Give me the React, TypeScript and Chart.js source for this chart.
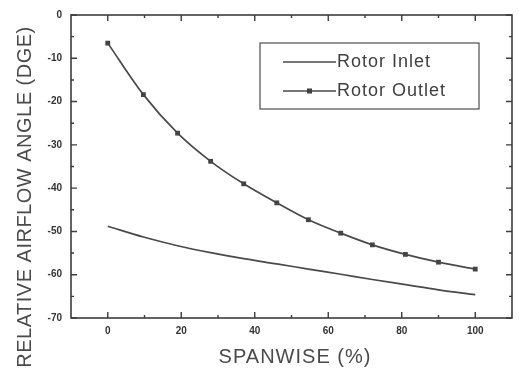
import React, { useEffect, useRef } from "react";
import { Chart, registerables } from "chart.js";

Chart.register(...registerables);

// Spanwise stations (%) and relative airflow angles (deg)
const spanwise = [0, 9.7, 19, 28, 37, 46, 54.6, 63.4, 72, 81, 90, 100];
const rotorInlet = [-48.8, -51.3, -53.3, -54.9, -56.3, -57.5, -58.7, -59.9, -61.1, -62.3, -63.5, -64.6];
const rotorOutlet = [-6.5, -18.4, -27.3, -33.8, -39.0, -43.4, -47.3, -50.4, -53.1, -55.3, -57.1, -58.7];

const xTickLabels = [0, 20, 40, 60, 80, 100];
const xMinorTicks = [10, 30, 50, 70, 90];
const yTickLabels = [0, -10, -20, -30, -40, -50, -60, -70];
const yMinorTicks = [-5, -15, -25, -35, -45, -55, -65];

const seriesNames = ["Rotor Inlet", "Rotor Outlet"];

const INK = "#3c3c3c";
const LINE = "#4a4a4a";

const framePlugin = {
  id: "frameAndDecor",
  afterDraw(chart: any) {
    const { ctx, chartArea: a, scales } = chart;
    const xs = scales.x;
    const ys = scales.y;
    ctx.save();
    // frame
    ctx.strokeStyle = INK;
    ctx.lineWidth = 1.6;
    ctx.strokeRect(a.left, a.top, a.right - a.left, a.bottom - a.top);

    // inward tick marks on all four sides
    ctx.lineWidth = 1.4;
    const tickX = (v: number, len: number) => {
      const px = xs.getPixelForValue(v);
      ctx.beginPath();
      ctx.moveTo(px, a.bottom);
      ctx.lineTo(px, a.bottom - len);
      ctx.moveTo(px, a.top);
      ctx.lineTo(px, a.top + len);
      ctx.stroke();
    };
    const tickY = (v: number, len: number) => {
      const py = ys.getPixelForValue(v);
      ctx.beginPath();
      ctx.moveTo(a.left, py);
      ctx.lineTo(a.left + len, py);
      ctx.moveTo(a.right, py);
      ctx.lineTo(a.right - len, py);
      ctx.stroke();
    };
    xTickLabels.forEach((v) => tickX(v, 6));
    xMinorTicks.forEach((v) => tickX(v, 3));
    yTickLabels.forEach((v) => tickY(v, 6));
    yMinorTicks.forEach((v) => tickY(v, 3));

    // axis titles
    ctx.fillStyle = "#4a4a4a";
    ctx.font = '20px "Liberation Sans", Arial, sans-serif';
    ctx.textAlign = "center";
    ctx.textBaseline = "middle";
    ctx.letterSpacing = "1px";
    ctx.fillText("SPANWISE (%)", 295, 357);
    ctx.save();
    ctx.translate(25, 197);
    ctx.rotate(-Math.PI / 2);
    ctx.letterSpacing = "0.5px";
    ctx.fillText("RELATIVE AIRFLOW ANGLE (DGE)", 0, 0);
    ctx.restore();

    // legend box
    const bx = 260, by = 43, bw = 219, bh = 66;
    ctx.strokeStyle = "#5a5a5a";
    ctx.lineWidth = 1.3;
    ctx.strokeRect(bx, by, bw, bh);
    ctx.font = '18px "Liberation Sans", Arial, sans-serif';
    ctx.letterSpacing = "1px";
    ctx.textAlign = "left";
    const rows = [61, 90];
    rows.forEach((ry, i) => {
      ctx.strokeStyle = LINE;
      ctx.lineWidth = 1.3;
      ctx.beginPath();
      ctx.moveTo(283, ry + 1);
      ctx.lineTo(336, ry + 1);
      ctx.stroke();
      if (i === 1) {
        ctx.fillStyle = "#404040";
        ctx.fillRect(307, ry - 1.5, 5, 5);
      }
      ctx.fillStyle = "#404040";
      ctx.fillText(seriesNames[i], 337, ry + 1);
    });
    ctx.restore();
  },
};

export default function App() {
  const ref = useRef<HTMLCanvasElement>(null);

  useEffect(() => {
    if (!ref.current) return;
    const chart = new Chart(ref.current, {
      type: "line",
      data: {
        datasets: [
          {
            label: seriesNames[0],
            data: spanwise.map((x, i) => ({ x, y: rotorInlet[i] })),
            borderColor: LINE,
            borderWidth: 1.7,
            pointRadius: 0,
            cubicInterpolationMode: "monotone",
            fill: false,
          },
          {
            label: seriesNames[1],
            data: spanwise.map((x, i) => ({ x, y: rotorOutlet[i] })),
            borderColor: LINE,
            borderWidth: 1.7,
            pointStyle: "rect",
            pointRadius: 3.4,
            pointBackgroundColor: "#444",
            pointBorderColor: "#444",
            pointBorderWidth: 0,
            cubicInterpolationMode: "monotone",
            fill: false,
          },
        ],
      },
      options: {
        responsive: false,
        animation: false,
        devicePixelRatio: 1,
        layout: { padding: { top: 14, right: 7, left: 0, bottom: 0 } },
        plugins: {
          legend: { display: false },
          tooltip: { enabled: false },
        },
        scales: {
          x: {
            type: "linear",
            min: -10,
            max: 110,
            grid: { display: false, drawTicks: false },
            border: { display: false },
            afterBuildTicks: (scale: any) => {
              scale.ticks = xTickLabels.map((v) => ({ value: v }));
            },
            afterFit: (scale: any) => {
              scale.height = 51;
            },
            ticks: {
              padding: 7,
              color: "#333",
              font: { family: '"Liberation Sans", Arial, sans-serif', size: 10, weight: "bold" },
              maxRotation: 0,
            },
          },
          y: {
            type: "linear",
            min: -70,
            max: 0,
            grid: { display: false, drawTicks: false },
            border: { display: false },
            afterBuildTicks: (scale: any) => {
              scale.ticks = yTickLabels.map((v) => ({ value: v }));
            },
            afterFit: (scale: any) => {
              scale.width = 71;
            },
            ticks: {
              padding: 9,
              color: "#333",
              font: { family: '"Liberation Sans", Arial, sans-serif', size: 10, weight: "bold" },
              callback: (v: any) => String(v),
            },
          },
        },
      },
      plugins: [framePlugin],
    });
    return () => chart.destroy();
  }, []);

  return (
    <div style={{ position: "fixed", left: 0, top: 0, width: 519, height: 369, background: "#fff" }}>
      <canvas ref={ref} width={519} height={369} style={{ display: "block" }} />
    </div>
  );
}
